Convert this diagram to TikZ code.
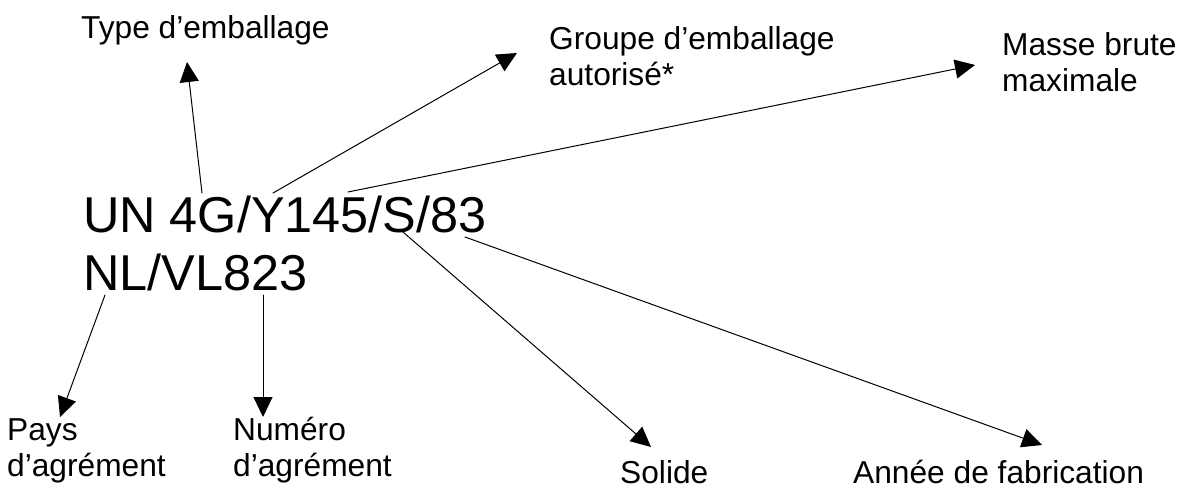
\documentclass[tikz,border=0pt]{standalone}
\usepackage{fontspec}
\setmainfont{Liberation Sans}
\usetikzlibrary{arrows.meta}
\begin{document}
\begin{tikzpicture}[x=1pt,y=-1pt,
  tag/.style={anchor=base west, inner sep=0pt, align=left,
    font=\fontsize{31.7}{36}\selectfont},
  mark code/.style={anchor=base west, inner sep=0pt, align=left,
    font=\fontsize{50.4}{57.7}\selectfont},
  pointer/.style={line width=1pt, line cap=round,
    -{Triangle[length=20pt,width=19pt]}}]
\useasboundingbox (0,0) rectangle (1185,487);

% the packaging mark (node base = baseline of its last line)
\node[mark code] (code) at (83,290) {UN 4G/Y145/S/83\\NL/VL823};

% meaning of each part
\node[tag] (type)   at (81,38)   {Type d’emballage};
\node[tag] (groupe) at (549,85)  {Groupe d’emballage\\autorisé*};
\node[tag] (masse)  at (1002,92) {Masse brute\\maximale};
\node[tag] (pays)   at (7,476)   {Pays\\d’agrément};
\node[tag] (numero) at (233,476) {Numéro\\d’agrément};
\node[tag] (solide) at (620,483) {Solide};
\node[tag] (annee)  at (853,483) {Année de fabrication};

% start points on the mark
\coordinate (c-type)   at (202,193);
\coordinate (c-groupe) at (273,193);
\coordinate (c-masse)  at (348,192);
\coordinate (c-solide) at (403,232);
\coordinate (c-annee)  at (465,237);
\coordinate (c-pays)   at (105,295);
\coordinate (c-numero) at (263,295);

% arrow tips next to the labels
\coordinate (t-type)   at (187,62);
\coordinate (t-groupe) at (517,53);
\coordinate (t-masse)  at (975,65);
\coordinate (t-solide) at (651,447);
\coordinate (t-annee)  at (1042,445);
\coordinate (t-pays)   at (60,417);
\coordinate (t-numero) at (263,417);

\foreach \n in {type,groupe,masse,solide,annee,pays,numero}
  \draw[pointer] (c-\n) -- (t-\n);
\end{tikzpicture}
\end{document}
